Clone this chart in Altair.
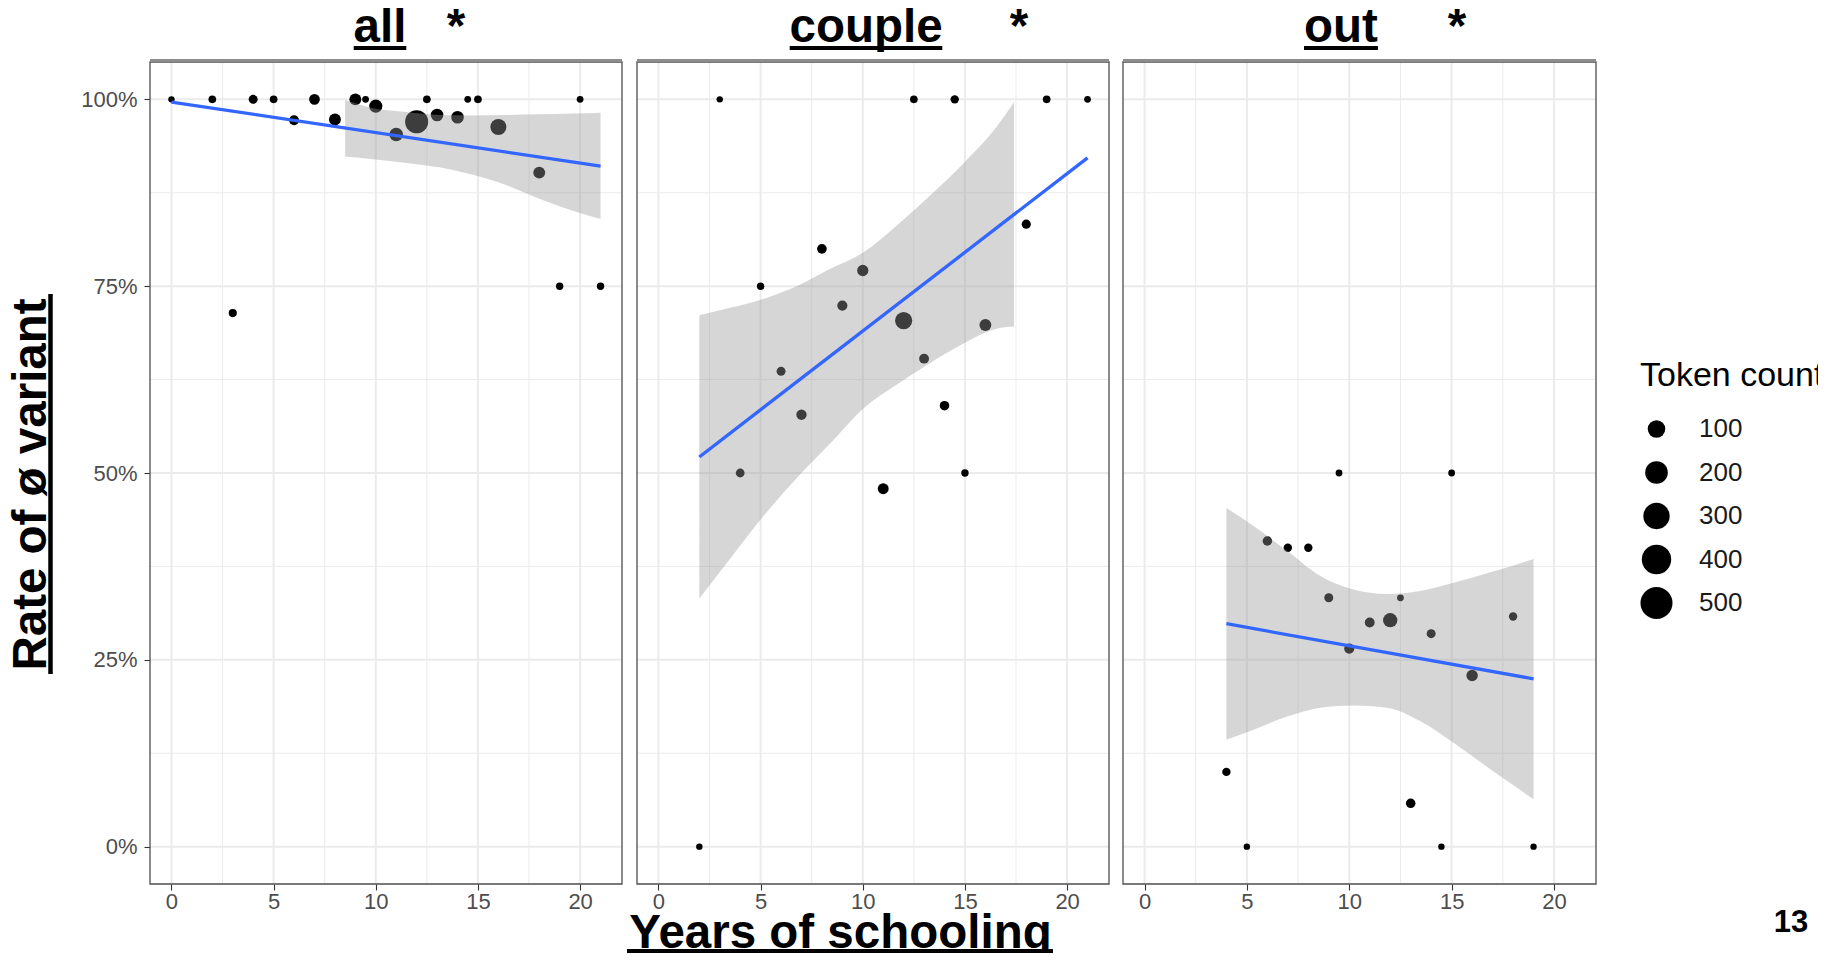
import altair as alt
import pandas as pd

# ---------------- data ----------------
# panel "all"
all_x = [0, 2, 4, 5, 7, 6, 8, 9, 9.5, 10, 11, 12, 12.5, 13, 14, 14.5, 15, 16, 18, 20, 19, 21, 3]
all_rate = [1.0, 1.0, 1.0, 1.0, 1.0, 0.972, 0.973, 1.0, 1.0, 0.991, 0.953, 0.970, 1.0, 0.979,
            0.976, 1.0, 1.0, 0.963, 0.902, 1.0, 0.75, 0.75, 0.714]
all_tokens = [1, 5, 11, 5, 22, 16, 31, 31, 2, 43, 48, 211, 5, 37, 37, 2, 5, 77, 31, 2, 4, 4, 7]
all_rib_x = [8.5, 9.87, 11.5, 13.12, 14.75, 16.37, 18.0, 19.63, 21.0]
all_rib_lo = [0.9235, 0.920, 0.915, 0.909, 0.899, 0.8855, 0.867, 0.851, 0.840]
all_rib_hi = [0.999, 0.988, 0.983, 0.979, 0.9785, 0.979, 0.980, 0.981, 0.982]
all_fit_x = [0, 21]
all_fit_y = [0.9964, 0.9106]

# panel "couple"
cpl_x = [3, 12.5, 14.5, 19, 21, 8, 5, 10, 9, 12, 16, 18, 6, 13, 7, 14, 4, 15, 11, 2]
cpl_rate = [1.0, 1.0, 1.0, 1.0, 1.0, 0.80, 0.75, 0.771, 0.724, 0.704, 0.698, 0.833, 0.636,
            0.653, 0.578, 0.59, 0.50, 0.50, 0.479, 0.0]
cpl_tokens = [1, 5, 8, 5, 2, 15, 4, 26, 18, 94, 31, 12, 11, 16, 19, 14, 10, 4, 23, 1]
cpl_rib_x = [2, 3.5, 5.13, 6.76, 8.39, 10.02, 11.65, 13.28, 14.91, 16.54, 17.4]
cpl_rib_lo = [0.332, 0.385, 0.442, 0.493, 0.539, 0.586, 0.618, 0.647, 0.673, 0.693, 0.696]
cpl_rib_hi = [0.711, 0.721, 0.733, 0.750, 0.773, 0.795, 0.831, 0.871, 0.914, 0.963, 0.996]
cpl_fit_x = [2, 21]
cpl_fit_y = [0.5215, 0.9217]

# panel "out"
out_x = [9.5, 15, 6, 7, 8, 9, 12.5, 11, 12, 14, 18, 10, 16, 4, 13, 5, 14.5, 19]
out_rate = [0.50, 0.50, 0.409, 0.40, 0.40, 0.333, 0.333, 0.30, 0.303, 0.285, 0.308, 0.265,
            0.229, 0.10, 0.058, 0.0, 0.0, 0.0]
out_tokens = [2, 2, 14, 8, 8, 11, 2, 16, 55, 11, 8, 18, 27, 8, 14, 1, 1, 1]
out_rib_x = [4, 5.33, 6.96, 8.59, 10.2, 11.84, 13.46, 15.09, 16.72, 17.86, 19]
out_rib_lo = [0.143, 0.1565, 0.174, 0.186, 0.189, 0.186, 0.168, 0.139, 0.107, 0.085, 0.0635]
out_rib_hi = [0.453, 0.429, 0.396, 0.362, 0.344, 0.338, 0.342, 0.353, 0.366, 0.375, 0.385]
out_fit_x = [4, 19]
out_fit_y = [0.2983, 0.2245]

panel_names = ["all", "couple", "out"]
x_ticks = [0, 5, 10, 15, 20]
x_minor = [2.5, 7.5, 12.5, 17.5]
y_ticks = [0, 0.25, 0.5, 0.75, 1.0]
y_minor = [0.125, 0.375, 0.625, 0.875]
legend_values = [100, 200, 300, 400, 500]

# ---------------- layout constants ----------------
W, H = 1446, 822
RANGES = [[0, 472], [487, 959], [973, 1446]]
XDOM = [-1.05, 22.05]
YDOM = [-0.05, 1.05]
FONT = "Liberation Sans"
TFS = 47.5  # bold title font size

yscale = alt.Scale(domain=YDOM, nice=False, zero=False)
yaxis = alt.Axis(values=y_ticks, format=".0%", grid=False, domain=False,
                 tickColor="#333333", tickWidth=1.1, tickSize=6, labelPadding=7,
                 labelFontSize=22, labelColor="#4D4D4D", labelFont=FONT,
                 title="Rate of ø variant", titleFont=FONT, titleFontSize=TFS,
                 titleFontWeight="bold", titleColor="black", titleAngle=270,
                 titleX=-105, titleY=422, titleAlign="center", titleBaseline="alphabetic")
size_scale = alt.Scale(type="pow", exponent=0.8, domain=[0, 560], range=[34, 1122])
size_legend = alt.Legend(title="Token count", orient="none", legendX=1490, legendY=297,
                         values=legend_values, titleFontSize=34, titleFont=FONT,
                         titleFontWeight="normal", titleColor="black", titlePadding=17,
                         titleLimit=400, labelLimit=200,
                         labelFontSize=26, labelFont=FONT, labelColor="#1A1A1A",
                         symbolFillColor="black", symbolStrokeWidth=0, symbolOpacity=1,
                         clipHeight=38, rowPadding=5.5, labelOffset=26, padding=0)


def panel(i, xs, rates, toks, rx, rlo, rhi, fx, fy, xtitle):
    xscale = alt.Scale(domain=XDOM, range=RANGES[i], nice=False, zero=False)
    common = dict(values=x_ticks, orient="bottom", grid=False, domain=False,
                  tickColor="#333333", tickWidth=1.1, tickSize=6, labelPadding=1,
                  labelFontSize=22, labelColor="#4D4D4D", labelFont=FONT)
    if xtitle:
        xaxis = alt.Axis(title=xtitle, titleFont=FONT, titleFontSize=TFS,
                         titleFontWeight="bold", titleColor="black", titleX=690, titleY=63,
                         titleAlign="center", titleBaseline="alphabetic", **common)
    else:
        xaxis = alt.Axis(title=None, **common)

    def X(f):
        return alt.X(f, type="quantitative", scale=xscale, axis=xaxis)

    def Y(f):
        return alt.Y(f, type="quantitative", scale=yscale, axis=yaxis)

    XD0 = alt.XDatum(XDOM[0], type="quantitative", scale=xscale, axis=xaxis)
    YD0 = alt.YDatum(YDOM[0], type="quantitative", scale=yscale, axis=yaxis)
    YD1 = alt.YDatum(YDOM[1], type="quantitative", scale=yscale, axis=yaxis)

    one = pd.DataFrame({"k": [0]})
    vminor = alt.Chart(pd.DataFrame({"gx": x_minor})).mark_rule(
        color="#EBEBEB", strokeWidth=1).encode(x=X("gx"), y=YD0, y2=alt.datum(YDOM[1]))
    vmajor = alt.Chart(pd.DataFrame({"gx": x_ticks})).mark_rule(
        color="#EBEBEB", strokeWidth=2).encode(x=X("gx"), y=YD0, y2=alt.datum(YDOM[1]))
    hminor = alt.Chart(pd.DataFrame({"gy": y_minor})).mark_rule(
        color="#EBEBEB", strokeWidth=1).encode(y=Y("gy"), x=XD0, x2=alt.datum(XDOM[1]))
    hmajor = alt.Chart(pd.DataFrame({"gy": y_ticks})).mark_rule(
        color="#EBEBEB", strokeWidth=2).encode(y=Y("gy"), x=XD0, x2=alt.datum(XDOM[1]))

    pts = alt.Chart(pd.DataFrame({"x": xs, "rate": rates, "tokens": toks})).mark_circle(
        color="black", opacity=1).encode(
        x=X("x"), y=Y("rate"),
        size=alt.Size("tokens:Q", scale=size_scale, legend=size_legend))
    rib = alt.Chart(pd.DataFrame({"x": rx, "lo": rlo, "hi": rhi})).mark_area(
        color="#999999", opacity=0.4, orient="vertical", interpolate="monotone").encode(
        x=X("x"), y=Y("lo"), y2="hi:Q")
    fit = alt.Chart(pd.DataFrame({"x": fx, "y": fy})).mark_line(
        color="#3366FF", strokeWidth=3.3).encode(x=X("x"), y=Y("y"))
    border = alt.Chart(one).mark_rect(fillOpacity=0, stroke="#4D4D4D", strokeWidth=1.3).encode(
        x=XD0, x2=alt.datum(XDOM[1]), y=YD0, y2=alt.datum(YDOM[1]))
    strip = alt.Chart(one).mark_rule(color="#8C8C8C", strokeWidth=3, yOffset=-1.5).encode(
        x=XD0, x2=alt.datum(XDOM[1]), y=YD1)
    return alt.layer(vminor, hminor, vmajor, hmajor, pts, rib, fit, border, strip)


p1 = panel(0, all_x, all_rate, all_tokens, all_rib_x, all_rib_lo, all_rib_hi,
           all_fit_x, all_fit_y, None)
p2 = panel(1, cpl_x, cpl_rate, cpl_tokens, cpl_rib_x, cpl_rib_lo, cpl_rib_hi,
           cpl_fit_x, cpl_fit_y, "Years of schooling")
p3 = panel(2, out_x, out_rate, out_tokens, out_rib_x, out_rib_lo, out_rib_hi,
           out_fit_x, out_fit_y, None)

# ---------------- titles with underlines ----------------
title_font = dict(font=FONT, fontSize=TFS, fontWeight="bold", color="black",
                  align="center", baseline="alphabetic")
title_centers = [230, 716, 1191]
title_halfwidths = [26.3, 76.3, 37]
star_centers = [306, 869, 1307]
deco = []
for name, cx, hw, sx in zip(panel_names, title_centers, title_halfwidths, star_centers):
    deco.append(alt.Chart(pd.DataFrame({"t": [name]})).mark_text(**title_font).encode(
        text="t:N", x=alt.value(cx), y=alt.value(-20)))
    deco.append(alt.Chart(pd.DataFrame({"t": ["*"]})).mark_text(**title_font).encode(
        text="t:N", x=alt.value(sx), y=alt.value(-20)))
    deco.append(alt.Chart(pd.DataFrame({"k": [0]})).mark_rule(
        color="black", strokeWidth=4).encode(
        x=alt.value(cx - hw), x2=alt.value(cx + hw), y=alt.value(-14)))

# underline of y title
deco.append(alt.Chart(pd.DataFrame({"k": [0]})).mark_rule(color="black", strokeWidth=4.5).encode(
    x=alt.value(-99.5), y=alt.value(232), y2=alt.value(612)))
# underline of x title
deco.append(alt.Chart(pd.DataFrame({"k": [0]})).mark_rule(color="black", strokeWidth=4).encode(
    x=alt.value(477), x2=alt.value(903), y=alt.value(889)))
# slide number
deco.append(alt.Chart(pd.DataFrame({"t": ["13"]})).mark_text(
    font=FONT, fontSize=31, fontWeight="bold", color="black", align="center",
    baseline="alphabetic").encode(text="t:N", x=alt.value(1641), y=alt.value(870)))

chart = alt.layer(p1, p2, p3, *deco).resolve_scale(x="independent").properties(
    width=W, height=H,
    autosize=alt.AutoSizeParams(type="none"),
    padding={"left": 142, "top": 54, "right": 222, "bottom": 69},
    background="white",
).configure_view(strokeOpacity=0)

chart.save("out.html", embed_options={"renderer": "svg", "actions": False})
